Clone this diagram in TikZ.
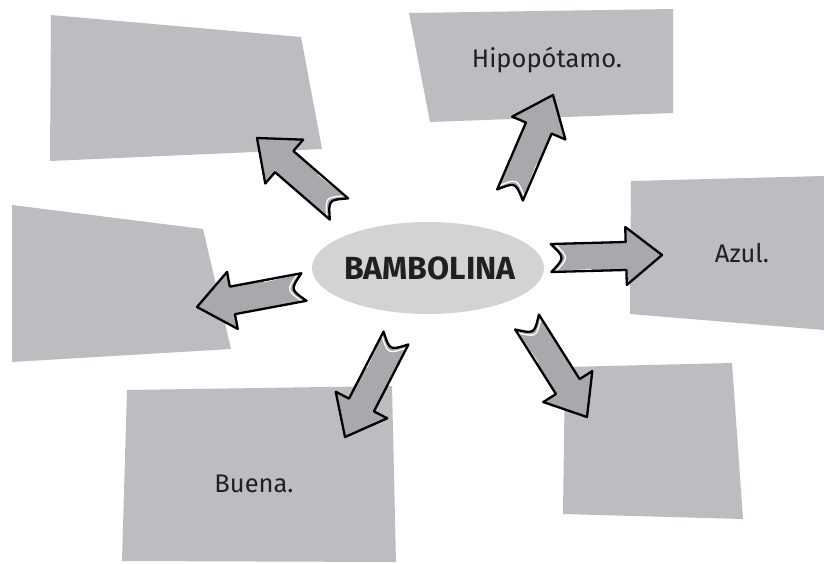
\documentclass[tikz,border=0pt]{standalone}
\usepackage{fontspec}
\setmainfont{Fira Sans}
\usetikzlibrary{calc,shapes.geometric}
\definecolor{boxgray}{HTML}{BCBDC0}
\definecolor{ellgray}{HTML}{D1D3D4}
\definecolor{arrgray}{HTML}{A7A9AC}
\definecolor{txt}{HTML}{231F20}
\tikzset{
  boxshape/.style={fill=boxgray},
  arrowfill/.style={fill=arrgray},
  arrowline/.style={draw=black, line width=2.3pt, line join=round},
  arrowhl/.style={draw=white, line width=1.3pt, line cap=round},
  label/.style={font=\fontsize{25.5}{30}\selectfont, text=txt, anchor=base, inner sep=0pt},
}
\newcommand\blockarrow[3]{%
  \coordinate (#1-t) at #2;
  \coordinate (#1-p) at #3;
  \coordinate (#1-n) at ($(#1-p)!36pt!(#1-t)$);
  \coordinate (#1-tl) at ($(#1-t)!14pt!90:(#1-p)$);
  \coordinate (#1-tr) at ($(#1-t)!14pt!-90:(#1-p)$);
  \coordinate (#1-nl) at ($(#1-n)!14pt!90:(#1-p)$);
  \coordinate (#1-nr) at ($(#1-n)!14pt!-90:(#1-p)$);
  \coordinate (#1-bl) at ($(#1-n)!29pt!90:(#1-p)$);
  \coordinate (#1-br) at ($(#1-n)!29pt!-90:(#1-p)$);
  \coordinate (#1-c) at ($(#1-t)!14pt!(#1-p)$);
  \path[arrowfill] (#1-tl) -- (#1-nl) -- (#1-bl) -- (#1-p) -- (#1-br) -- (#1-nr) -- (#1-tr) .. controls (#1-c) .. (#1-tl) -- cycle;
  \draw[arrowhl] ($(#1-tl)!4pt!(#1-nl)$) .. controls ($(#1-c)!4pt!(#1-p)$) .. ($(#1-tr)!4pt!(#1-nr)$)
     -- ($($(#1-tr)!0.55!(#1-nr)$)!2.5pt!(#1-tl)$);
  \draw[arrowline] (#1-tl) -- (#1-nl) -- (#1-bl) -- (#1-p) -- (#1-br) -- (#1-nr) -- (#1-tr) .. controls (#1-c) .. (#1-tl) -- cycle;
}
\begin{document}
\begin{tikzpicture}[x=1pt,y=-1pt]
\fill[white] (0,0) rectangle (824,563);
\useasboundingbox (0,0) rectangle (824,563);
% boxes
\fill[boxshape] (51,15) -- (301,37) -- (322,149) -- (50,161) -- cycle;
\fill[boxshape] (409,13) -- (673,9) -- (673,113) -- (430,122) -- cycle;
\fill[boxshape] (631,181) -- (824,176) -- (824,330) -- (630,314) -- cycle;
\fill[boxshape] (12,205) -- (203,229) -- (231,349) -- (12,362) -- cycle;
\fill[boxshape] (127,390) -- (392,386) -- (396,562) -- (122,561) -- cycle;
\fill[boxshape] (565,367) -- (732,363) -- (743,519) -- (563,514) -- cycle;
% texts
\node[label] (hipo) at (547,67) {Hipopótamo.};
\node[label] (azul) at (742,262) {Azul.};
\node[label] (buena) at (254,492) {Buena.};
% center
\node[ellipse, fill=ellgray, minimum width=232pt, minimum height=92pt, inner sep=0pt] (center) at (428,268) {};
\node[font=\fontsize{32}{36}\selectfont\bfseries, text=txt, anchor=base, inner sep=0pt] (bambo) at (430,279) {BAMBOLINA};
% arrows
\blockarrow{a1}{(339,209)}{(257,138)}
\blockarrow{a2}{(510,195)}{(553,95)}
\blockarrow{a3}{(551,258)}{(662,255)}
\blockarrow{a4}{(304,287)}{(197,307)}
\blockarrow{a5}{(396,338)}{(345,437)}
\blockarrow{a6}{(527,322)}{(587,417)}
\end{tikzpicture}
\end{document}
